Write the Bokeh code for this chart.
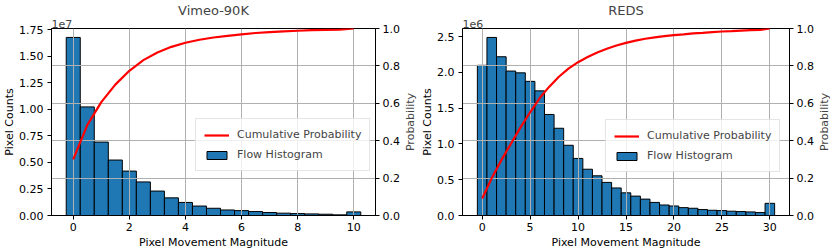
from bokeh.plotting import figure
from bokeh.layouts import row
from bokeh.models import (Range1d, LinearAxis, FixedTicker, CustomJSTickFormatter,
                          Legend, LegendItem, Grid, Title)
from bokeh.embed import file_html
from bokeh.resources import INLINE

# ---------------- data ----------------
vimeo_title = "Vimeo-90K"
vimeo_centers = [0, 0.5, 1, 1.5, 2, 2.5, 3, 3.5, 4, 4.5, 5, 5.5, 6, 6.5, 7, 7.5, 8, 8.5, 9, 9.5, 10]
vimeo_counts = [1.676e7, 1.022e7, 0.691e7, 0.522e7, 0.418e7, 0.316e7, 0.230e7, 0.166e7,
                0.123e7, 0.089e7, 0.068e7, 0.052e7, 0.046e7, 0.037e7, 0.028e7, 0.022e7,
                0.018e7, 0.015e7, 0.012e7, 0.006e7, 0.034e7]
vimeo_cum = [0.300, 0.483, 0.606, 0.700, 0.774, 0.831, 0.872, 0.902, 0.924, 0.940, 0.952,
             0.961, 0.969, 0.976, 0.981, 0.985, 0.988, 0.991, 0.993, 0.994, 1.000]
vimeo_xticks = [0, 2, 4, 6, 8, 10]
vimeo_yticks = [0, 0.25e7, 0.5e7, 0.75e7, 1.0e7, 1.25e7, 1.5e7, 1.75e7]

reds_title = "REDS"
reds_centers = list(range(0, 31))
reds_counts = [2.10e6, 2.49e6, 2.22e6, 2.02e6, 1.995e6, 1.876e6, 1.743e6, 1.413e6, 1.220e6,
               0.982e6, 0.798e6, 0.647e6, 0.555e6, 0.463e6, 0.385e6, 0.317e6, 0.271e6,
               0.229e6, 0.183e6, 0.147e6, 0.133e6, 0.110e6, 0.101e6, 0.083e6, 0.073e6,
               0.069e6, 0.060e6, 0.055e6, 0.050e6, 0.041e6, 0.170e6]
reds_cum = [0.091, 0.200, 0.296, 0.384, 0.471, 0.552, 0.628, 0.689, 0.742, 0.785, 0.820,
            0.848, 0.872, 0.892, 0.909, 0.923, 0.935, 0.945, 0.953, 0.959, 0.965, 0.969,
            0.974, 0.977, 0.981, 0.984, 0.986, 0.989, 0.991, 0.993, 1.000]
reds_xticks = [0, 5, 10, 15, 20, 25, 30]
reds_yticks = [0, 0.5e6, 1.0e6, 1.5e6, 2.0e6, 2.5e6]

prob_ticks = [0.0, 0.2, 0.4, 0.6, 0.8, 1.0]
x_label = "Pixel Movement Magnitude"
y_label = "Pixel Counts"
y2_label = "Probability"
line_label = "Cumulative Probability"
bar_label = "Flow Histogram"

FONT = "DejaVu Sans"
BAR_COLOR = "#1f77b4"
GRID_COLOR = "#b0b0b0"
FIG_H = 251


def style_axis(ax, label_standoff=4, title_standoff=1):
    ax.axis_line_color = "black"
    ax.axis_line_width = 1
    ax.major_tick_line_color = "black"
    ax.major_tick_out = 4
    ax.major_tick_in = 0
    ax.minor_tick_line_color = None
    ax.major_label_text_font = FONT
    ax.major_label_text_font_size = "11px"
    ax.major_label_text_color = "black"
    ax.major_label_standoff = label_standoff
    ax.axis_label_text_font = FONT
    ax.axis_label_text_font_size = "11px"
    ax.axis_label_text_font_style = "normal"
    ax.axis_label_text_color = "black"
    ax.axis_label_standoff = title_standoff


def make_panel(title, centers, counts, cum, bar_w, xticks, x_start, x_end,
               y_end, yticks, exp_str, y_fmt, legend_xy, fig_w, border_left):
    p = figure(width=fig_w, height=FIG_H, output_backend="svg", toolbar_location=None,
               title=None,
               x_range=Range1d(x_start, x_end), y_range=Range1d(0, y_end),
               min_border_top=0, min_border_bottom=0, min_border_left=border_left,
               min_border_right=0)
    p.outline_line_color = "black"
    p.outline_line_width = 1
    p.background_fill_color = "white"

    # scale-offset text (inner) and title (outer)
    p.add_layout(Title(text=exp_str, align="left", text_font=FONT, text_font_size="11px",
                       text_font_style="normal", standoff=1), "above")
    p.add_layout(Title(text=title, align="center", text_font=FONT, text_font_size="13px",
                       text_font_style="normal", standoff=0), "above")

    p.extra_y_ranges = {"prob": Range1d(0, 1.0)}

    bars = p.vbar(x=centers, top=counts, width=bar_w, bottom=0,
                  fill_color=BAR_COLOR, line_color="black", line_width=1, level="image")
    line = p.line(x=centers, y=cum, y_range_name="prob", line_color="red", line_width=2.2)

    xa = p.xaxis[0]
    xa.ticker = FixedTicker(ticks=xticks)
    xa.axis_label = x_label
    style_axis(xa, label_standoff=3, title_standoff=2)

    ya = p.yaxis[0]
    ya.ticker = FixedTicker(ticks=yticks)
    ya.formatter = CustomJSTickFormatter(code=y_fmt)
    ya.axis_label = y_label
    style_axis(ya, label_standoff=4, title_standoff=0)

    ya2 = LinearAxis(y_range_name="prob",
                     ticker=FixedTicker(ticks=prob_ticks),
                     formatter=CustomJSTickFormatter(code="return tick.toFixed(1);"))
    style_axis(ya2, label_standoff=3, title_standoff=0)
    p.add_layout(ya2, "right")

    p.xgrid.ticker = FixedTicker(ticks=xticks)
    p.xgrid.grid_line_color = GRID_COLOR
    p.xgrid.grid_line_width = 1
    p.ygrid.grid_line_color = None
    hg = Grid(dimension=1, ticker=FixedTicker(ticks=prob_ticks), y_range_name="prob",
              grid_line_color=GRID_COLOR, grid_line_width=1)
    p.add_layout(hg, "center")

    legend = Legend(items=[LegendItem(label=line_label, renderers=[line]),
                           LegendItem(label=bar_label, renderers=[bars])],
                    location=legend_xy)
    legend.label_text_font = FONT
    legend.label_text_font_size = "11px"
    legend.glyph_width = 25
    legend.glyph_height = 10
    legend.label_height = 15
    legend.label_standoff = 8
    legend.spacing = 5
    legend.padding = 8
    legend.margin = 0
    legend.border_line_color = "#cccccc"
    legend.border_line_width = 1
    legend.background_fill_alpha = 0.8
    p.add_layout(legend, "center")
    return p


def side_label(text):
    # narrow strip carrying the right-hand axis title, read bottom-to-top
    s = figure(width=14, height=FIG_H, output_backend="svg", toolbar_location=None,
               title=text, title_location="left", x_axis_type=None, y_axis_type=None,
               min_border_top=28, min_border_bottom=36, min_border_left=0, min_border_right=0)
    s.title.text_font = FONT
    s.title.text_font_size = "11px"
    s.title.text_font_style = "normal"
    s.title.align = "center"
    s.title.standoff = 0
    s.outline_line_color = None
    s.background_fill_color = "white"
    s.border_fill_color = "white"
    return s


p1 = make_panel(vimeo_title, vimeo_centers, vimeo_counts, vimeo_cum, 0.5, vimeo_xticks,
                -0.775, 10.775, 1.76e7, vimeo_yticks, "1e7",
                "return (tick/1e7).toFixed(2);", (144, 44), 402, 0)
p2 = make_panel(reds_title, reds_centers, reds_counts, reds_cum, 1.0, reds_xticks,
                -2.05, 32.05, 2.615e6, reds_yticks, "1e6",
                "return (tick/1e6).toFixed(1);", (143, 43), 400, 46)

layout = row(p1, side_label(y2_label), p2, side_label(y2_label))
open("out.html", "w").write(file_html(layout, INLINE))
